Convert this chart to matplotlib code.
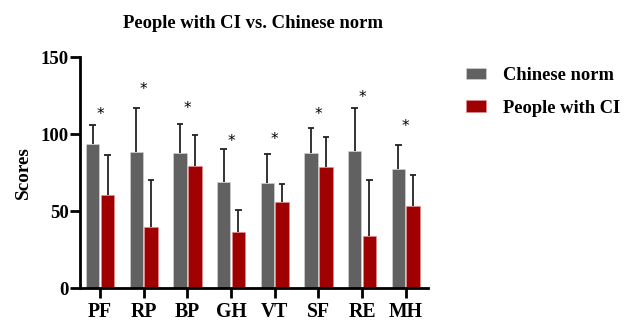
import numpy as np
import matplotlib.pyplot as plt

plt.rcParams['font.family'] = ['Liberation Serif', 'DejaVu Serif']
plt.rcParams['font.weight'] = 'bold'

domains = ['PF', 'RP', 'BP', 'GH', 'VT', 'SF', 'RE', 'MH']
norm_mean = [93.5, 88.3, 87.7, 69.2, 68.4, 87.7, 89.2, 77.3]
norm_sd = [12.5, 28.7, 19.2, 21.3, 19.0, 16.2, 28.1, 15.9]
ci_mean = [60.4, 39.8, 79.6, 36.8, 56.2, 78.6, 34.2, 53.4]
ci_sd = [26.0, 30.7, 19.7, 14.2, 11.5, 19.8, 36.3, 20.0]
star_y = [113, 129, 117, 95.6, 96.7, 113, 124, 105]

gray = '#616161'
red = '#a00000'

fig = plt.figure(figsize=(6.25, 3.21), dpi=100)
ax = fig.add_axes([80/625, 1 - 288.3/321, (428 - 80)/625, (288.3 - 57.3)/321])

x = np.arange(len(domains))
w = 0.31
gap = 0.015
cap = 0.075

# bars with one-sided (upper) error bars
for xs, mean, sd, col, edge, lab in [
        (x - w/2 - gap, norm_mean, norm_sd, gray, '#d8d8d8', 'Chinese norm'),
        (x + w/2 + gap, ci_mean, ci_sd, red, '#e09090', 'People with CI')]:
    ax.bar(xs, mean, w, color=col, edgecolor=edge, linewidth=0.4, label=lab, zorder=2)
    top = np.array(mean) + np.array(sd)
    ax.vlines(xs, mean, top, color='#222222', linewidth=1.3, zorder=1)
    ax.hlines(top, xs - cap, xs + cap, color='#222222', linewidth=1.3, zorder=1)

for xi, sy in zip(x, star_y):
    ax.text(xi, sy, '*', ha='center', va='center', fontsize=11, fontweight='normal',
            family='DejaVu Sans')

ax.set_xlim(-0.46, 7.51)
ax.set_ylim(0, 150)
ax.set_yticks([0, 50, 100, 150])
ax.set_xticks(x)
ax.set_xticklabels(domains, fontsize=14.2, fontweight='bold')
for lab in ax.get_yticklabels():
    lab.set_fontsize(13.5)
    lab.set_fontweight('bold')
ax.tick_params(axis='both', width=2, length=7, pad=3)
ax.tick_params(axis='y', pad=1)
for s in ['top', 'right']:
    ax.spines[s].set_visible(False)
for s in ['left', 'bottom']:
    ax.spines[s].set_linewidth(2)

ax.set_ylabel('Scores', fontsize=13.8, fontweight='bold', labelpad=6)
fig.text(0.405, 0.928, 'People with CI vs. Chinese norm', ha='center', va='center',
         fontsize=13.4, fontweight='bold')

ax.legend(loc='upper left', bbox_to_anchor=(1.06, 1.03), frameon=False, fontsize=13.3,
          handlelength=1.1, handleheight=0.6, handletextpad=0.95, labelspacing=0.85)

plt.savefig('out.png', dpi=100)
